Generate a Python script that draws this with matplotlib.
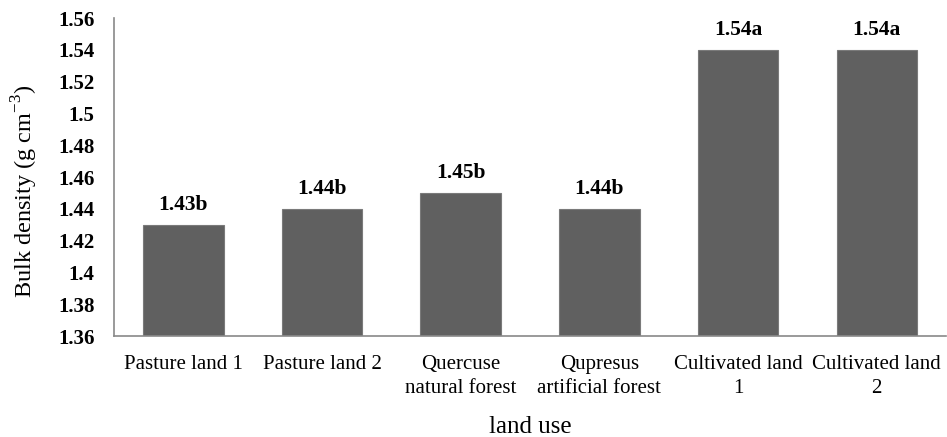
import matplotlib
matplotlib.use("Agg")
import matplotlib.pyplot as plt
import numpy as np

categories = ["Pasture land 1", "Pasture land 2", "Quercuse\nnatural forest",
              "Qupresus\nartificial forest", "Cultivated land\n1", "Cultivated land\n2"]
values = [1.43, 1.44, 1.45, 1.44, 1.54, 1.54]
labels = ["1.43b", "1.44b", "1.45b", "1.44b", "1.54a", "1.54a"]
yticks = [1.36, 1.38, 1.40, 1.42, 1.44, 1.46, 1.48, 1.50, 1.52, 1.54, 1.56]
ytick_labels = ["1.36", "1.38", "1.4", "1.42", "1.44", "1.46", "1.48", "1.5", "1.52", "1.54", "1.56"]

plt.rcParams['font.family'] = ['Liberation Serif', 'DejaVu Serif']
plt.rcParams['mathtext.fontset'] = 'custom'
plt.rcParams['mathtext.rm'] = 'Liberation Serif'

fig = plt.figure(figsize=(9.47, 4.37), dpi=100)
ax = fig.add_axes([0.1204, 0.2311, 0.8786, 0.7277])

x = np.arange(len(categories))
ax.bar(x, values, width=0.58, bottom=0, color='#606060', edgecolor='#7a7a7a', linewidth=0.8)
ax.set_xlim(-0.5, len(categories) - 0.5)
ax.set_ylim(1.36, 1.56)
ax.set_yticks(yticks)
ax.set_yticklabels(ytick_labels, fontweight='bold', fontsize=15)
ax.set_xticks(x)
ax.set_xticklabels(categories, fontsize=15, linespacing=1.35)
ax.tick_params(axis='both', length=0)
ax.tick_params(axis='y', pad=14)
ax.tick_params(axis='x', pad=14)
for s in ['top', 'right']:
    ax.spines[s].set_visible(False)
for s in ['left', 'bottom']:
    ax.spines[s].set_color('#898989')
    ax.spines[s].set_linewidth(1.2)

for xi, v, lab in zip(x, values, labels):
    ax.annotate(lab, (xi, v), xytext=(0, 7), textcoords='offset points',
                ha='center', va='bottom', fontsize=15.5, fontweight='bold')

ax.set_ylabel("Bulk density (g cm$^{\\mathregular{-3}}$)", fontsize=17.5, labelpad=13)
ax.yaxis.label.set_y(0.456)
ax.set_xlabel("land use", fontsize=18, labelpad=13)

fig.savefig("out.png", dpi=100)
